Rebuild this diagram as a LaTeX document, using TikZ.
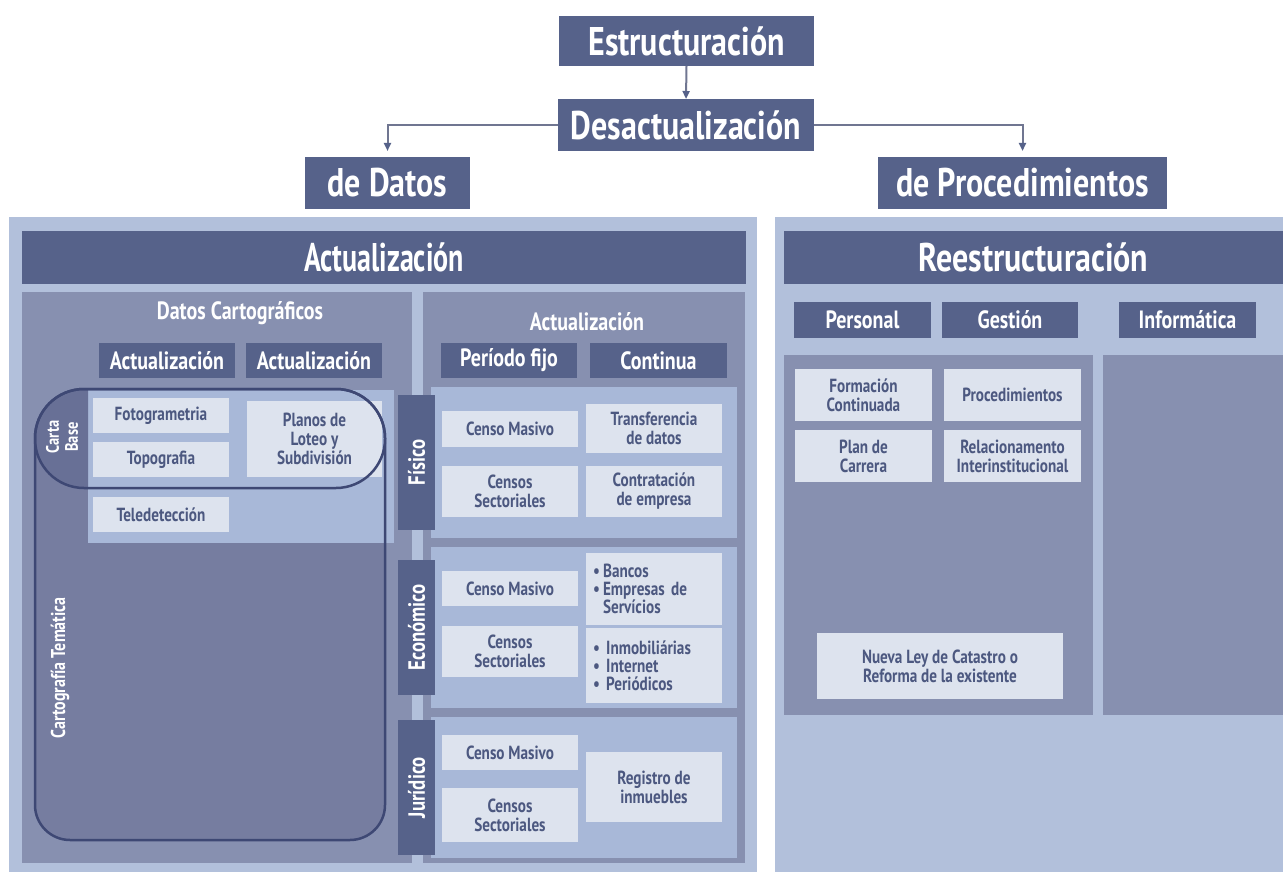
\documentclass[tikz,border=0pt]{standalone}
\usepackage{fontspec}
\setmainfont{PT Sans}[FakeStretch=0.8]
\newfontfamily\narrowfont{PT Sans}[FakeStretch=0.7]
\usetikzlibrary{arrows.meta}
\definecolor{hdrc}{RGB}{86,98,138}
\definecolor{outerc}{RGB}{178,192,219}
\definecolor{grayc}{RGB}{135,144,176}
\definecolor{groupc}{RGB}{168,184,216}
\definecolor{boxc}{RGB}{221,227,238}
\definecolor{txtc}{RGB}{76,88,128}
\definecolor{cartc}{RGB}{118,125,160}
\definecolor{cartlab}{RGB}{104,112,150}
\definecolor{linec}{RGB}{62,72,116}
\definecolor{connc}{RGB}{112,118,145}
\tikzset{
  area/.style={draw=none, inner sep=0pt, outer sep=0pt},
  hdr/.style={fill=hdrc, text=white, font=\bfseries\fontsize{40}{44}\selectfont, inner sep=0pt, outer sep=0pt, align=center},
  sub/.style={fill=hdrc, text=white, font=\bfseries\fontsize{25}{28}\selectfont, inner sep=0pt, minimum width=136, minimum height=35},
  ttl/.style={text=white, font=\bfseries\fontsize{25}{28}\selectfont, inner sep=0pt},
  lbox/.style={fill=boxc, text=txtc, font=\bfseries\fontsize{19}{19}\selectfont, align=center, inner sep=0pt, minimum width=136},
  lst/.style={lbox, align=left, text width=122, font=\bfseries\fontsize{19}{18}\selectfont},
  tabbox/.style={fill=hdrc, text=white, font=\bfseries\fontsize{23.5}{26}\selectfont, rotate=90, inner sep=0pt, minimum width=135, minimum height=37},
  vlab/.style={text=white, font=\bfseries\fontsize{18}{19}\selectfont, rotate=90, align=center, inner sep=0pt},
  conn/.style={draw=connc, line width=2pt, -{Triangle[length=8pt,width=7pt,color=hdrc]}},
}
\begin{document}
\begin{tikzpicture}[x=1pt,y=-1pt]
\useasboundingbox (0,0) rectangle (1283,872);
\fill[white] (0,0) rectangle (1283,872);
% top chain
\node[hdr, minimum width=255, minimum height=50] (estr) at (686.5,41) {Estructuración};
\node[hdr, minimum width=256, minimum height=52] (desact) at (686,125) {Desactualización};
\node[hdr, minimum width=165, minimum height=52] (datos) at (387.5,183) {de Datos};
\node[hdr, minimum width=289, minimum height=52] (proc) at (1022.5,183) {de Procedimientos};
\draw[conn] (estr.south) -- (desact.north);
\draw[conn, shorten >=6pt] (desact.west) -| (datos.north);
\draw[conn, shorten >=6pt] (desact.east) -| (proc.north);
% big panels
\node[area, fill=outerc, minimum width=748, minimum height=655] (lp) at (383,544.5) {};
\node[area, fill=outerc, minimum width=508, minimum height=655] (rp) at (1029,544.5) {};
\node[hdr, minimum width=724, minimum height=53, font=\narrowfont\bfseries\fontsize{40}{44}\selectfont] (acth) at (384,257.5) {Actualización};
\node[hdr, minimum width=499, minimum height=53] (reh) at (1033.5,257.5) {Reestructuración};
% datos cartograficos panel
\node[area, fill=grayc, minimum width=390, minimum height=571] (dcp) at (217,577.5) {};
\node[ttl] (dct) at (240,313) {Datos Cartográficos};
\node[sub] (dca1) at (167,360.5) {Actualización};
\node[sub] (dca2) at (314,360.5) {Actualización};
% cartografia tematica fill
\fill[cartc] (210,389) [rounded corners=49] -- (35,389) -- (35,600) [rounded corners=35] -- (35,840) -- (385,840) -- (385,600) [rounded corners=49] -- (385,389) -- cycle;
\node[area, fill=groupc, minimum width=306, minimum height=153] (inner) at (241,466.5) {};
\begin{scope}
\clip (0,380) rectangle (88,500);
\fill[cartlab, rounded corners=49] (35,389) rectangle (385,488);
\end{scope}
\node[lbox, minimum height=35] (foto) at (161,415.5) {Fotogrametria};
\node[lbox, minimum height=35] (topo) at (161,459.5) {Topografia};
\node[lbox, minimum width=135, minimum height=76] (planos) at (314.5,439) {Planos de\\Loteo y\\Subdivisión};
\node[lbox, minimum height=35] (tele) at (161,514.5) {Teledetección};
\draw[linec, line width=2.5pt] (210,389) [rounded corners=49] -- (35,389) -- (35,600) [rounded corners=35] -- (35,840) -- (385,840) -- (385,600) [rounded corners=49] -- (385,389) -- cycle;
\draw[linec, line width=2.5pt, rounded corners=49] (35,389) rectangle (385,488);
\node[vlab] (cbase) at (62,437) {Carta\\Base};
\node[vlab, font=\bfseries\fontsize{20}{22}\selectfont] (ctem) at (60,668) {Cartografía Temática};
% actualizacion panel
\node[area, fill=grayc, minimum width=322, minimum height=571] (acp) at (584,577.5) {};
\node[ttl] (act) at (587,322) {Actualización};
\node[sub] (pf) at (509,360.5) {Período fijo};
\node[sub, minimum width=137] (cont) at (658.5,360.5) {Continua};
\node[area, fill=groupc, minimum width=306, minimum height=151] (fisg) at (584,462.5) {};
\node[area, fill=groupc, minimum width=306, minimum height=161] (econg) at (584,627.5) {};
\node[area, fill=groupc, minimum width=306, minimum height=141] (jurg) at (584,787.5) {};
\node[tabbox] (fist) at (416.5,462.5) {Físico};
\node[tabbox] (econt) at (416.5,627.5) {Económico};
\node[tabbox] (jurt) at (416.5,787.5) {Jurídico};
\node[lbox, minimum height=36] (f1) at (510,429) {Censo Masivo};
\node[lbox, minimum height=49] (f2) at (654,428.5) {Transferencia\\de datos};
\node[lbox, minimum height=51] (f3) at (510,491.5) {Censos\\Sectoriales};
\node[lbox, minimum height=51] (f4) at (654,491.5) {Contratación\\de empresa};
\node[lbox, minimum height=35] (e1) at (510,588.5) {Censo Masivo};
\node[lst, minimum height=72] (e2) at (654,589) {•\,Bancos\\•\,Empresas de\\\hphantom{•\,}Servícios};
\node[lbox, minimum height=51] (e3) at (510,651.5) {Censos\\Sectoriales};
\node[lst, minimum height=75] (e4) at (654,665.5) {•\,\,Inmobiliárias\\•\,\,Internet\\•\,\,Periódicos};
\node[lbox, minimum height=35] (j1) at (510,752.5) {Censo Masivo};
\node[lbox, minimum height=54] (j2) at (510,815) {Censos\\Sectoriales};
\node[lbox, minimum height=70] (j3) at (654,787) {Registro de\\inmuebles};
% right panel
\node[sub, minimum width=137, minimum height=36] (pers) at (862.5,320) {Personal};
\node[sub, minimum height=36] (gest) at (1010,320) {Gestión};
\node[sub, minimum width=137, minimum height=36] (info) at (1187.5,320) {Informática};
\node[area, fill=grayc, minimum width=309, minimum height=360] (rp1) at (938.5,535) {};
\node[area, fill=grayc, minimum width=180, minimum height=360] (rp2) at (1193,535) {};
\node[lbox, minimum width=137, minimum height=52] (r1) at (863.5,395) {Formación\\Continuada};
\node[lbox, minimum width=137, minimum height=52] (r2) at (1012.5,395) {Procedimientos};
\node[lbox, minimum width=137, minimum height=52] (r3) at (863.5,456) {Plan de\\Carrera};
\node[lbox, minimum width=137, minimum height=52] (r4) at (1012.5,456) {Relacionamento\\Interinstitucional};
\node[lbox, minimum width=246, minimum height=66] (r5) at (940,666) {Nueva Ley de Catastro o\\Reforma de la existente};
\end{tikzpicture}
\end{document}
